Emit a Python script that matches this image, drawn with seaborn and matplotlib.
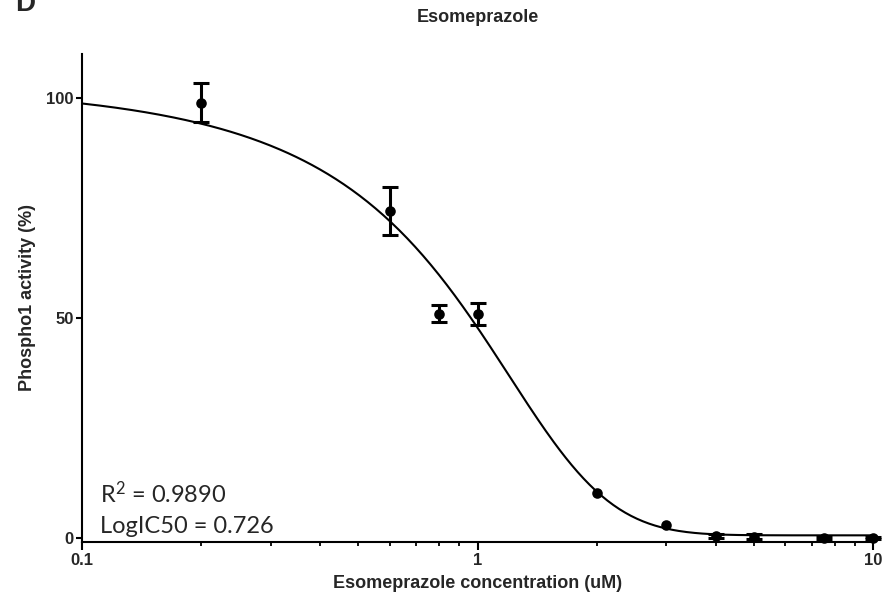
import numpy as np
import pandas as pd
import matplotlib
matplotlib.use("Agg")
import matplotlib.pyplot as plt
from matplotlib.ticker import FixedLocator, NullFormatter, FixedFormatter
import seaborn as sns

# Measured Phospho1 activity at each esomeprazole dose
concentration = [0.2, 0.6, 0.8, 1.0, 2.0, 3.0, 4.0, 5.0, 7.5, 10.0]
activity = [98.9, 74.3, 51.0, 50.8, 10.2, 3.0, 0.5, 0.3, 0.1, 0.0]
activity_sem = [4.4, 5.5, 2.0, 2.5, 0.0, 0.0, 0.4, 0.5, 0.4, 0.3]

# Dose-response fit (response vs. concentration, four parameters)
fit_top = 128.0
fit_bottom = 0.6
fit_log_ic50 = 0.726
fit_hill = 0.84
fit_r2 = 0.9890

x_ticks = [0.1, 1, 10]
x_tick_labels = ["0.1", "1", "10"]
y_ticks = [0, 50, 100]
y_tick_labels = ["0", "50", "100"]

sns.set_style("ticks")
plt.rcParams["font.family"] = ["Liberation Sans", "DejaVu Sans"]
plt.rcParams["mathtext.fontset"] = "custom"
plt.rcParams["mathtext.rm"] = "Lato"
plt.rcParams["mathtext.it"] = "Lato"

fig = plt.figure(figsize=(8.82, 5.98), dpi=100)
W, H = 882, 598
left, right, bottom, top = 82, 873, 541.5, 54
ax = fig.add_axes([left / W, 1 - bottom / H, (right - left) / W, (bottom - top) / H])

# fitted curve
xs = np.logspace(-1, 1, 400)
curve = pd.DataFrame({
    "conc": xs,
    "fit": fit_bottom + (fit_top - fit_bottom) / (1 + 10 ** ((xs - fit_log_ic50) * fit_hill)),
})
sns.lineplot(data=curve, x="conc", y="fit", ax=ax, color="black", lw=1.5,
             clip_on=False, zorder=2)

# data points; error bars only where an error was measured
points = pd.DataFrame({"conc": concentration, "act": activity, "sem": activity_sem})
with_err = points[points["sem"] > 0]
ax.errorbar(with_err["conc"], with_err["act"], yerr=with_err["sem"], fmt="none",
            ecolor="black", elinewidth=2.2, capsize=6.0, capthick=2.2,
            clip_on=False, zorder=3)
sns.scatterplot(data=points, x="conc", y="act", ax=ax, color="black", s=58,
                edgecolor="black", linewidth=0, clip_on=False, zorder=4)

ax.set_xscale("log")
ax.set_xlim(0.1, 10)
ax.set_ylim(-0.8, 110)

ax.xaxis.set_major_locator(FixedLocator(x_ticks))
ax.xaxis.set_major_formatter(FixedFormatter(x_tick_labels))
minor = [m * d for d in (0.1, 1) for m in range(2, 10)]
ax.xaxis.set_minor_locator(FixedLocator(minor))
ax.xaxis.set_minor_formatter(NullFormatter())
ax.yaxis.set_major_locator(FixedLocator(y_ticks))
ax.yaxis.set_major_formatter(FixedFormatter(y_tick_labels))

sns.despine(ax=ax)
for s in ("left", "bottom"):
    ax.spines[s].set_linewidth(1.5)
    ax.spines[s].set_color("black")

ax.tick_params(axis="x", which="major", direction="out", length=5.5, width=1.5,
               labelsize=12, pad=3, color="black")
ax.tick_params(axis="x", which="minor", direction="out", length=3, width=1.3,
               color="black")
ax.tick_params(axis="y", which="major", direction="out", length=4.5, width=1.5,
               labelsize=12, pad=1.5, color="black")
for lab in ax.get_xticklabels() + ax.get_yticklabels():
    lab.set_fontweight("bold")

ax.set_xlabel("Esomeprazole concentration (uM)", fontsize=13, fontweight="bold")
ax.set_ylabel("Phospho1 activity (%)", fontsize=13, fontweight="bold")
ax.xaxis.set_label_coords(0.5, -0.068)
ax.yaxis.set_label_coords((36 - left) / (right - left), 0.5)

fig.text((left + right) / 2 / W, 1 - 18 / H, "Esomeprazole", ha="center",
         va="center", fontsize=13, fontweight="bold")
fig.text(15 / W, 1 - 11 / H, "D", ha="left", va="baseline", fontsize=20,
         fontweight="bold")

# fit statistics
fig.text(100 / W, 1 - 503 / H, "R$^{2}$" + f" = {fit_r2:.4f}", ha="left",
         va="baseline", fontsize=17, family=["Lato", "DejaVu Sans"])
fig.text(100 / W, 1 - 533 / H, f"LogIC50 = {fit_log_ic50}", ha="left",
         va="baseline", fontsize=17, family=["Lato", "DejaVu Sans"])

ax.set_facecolor("white")
fig.patch.set_facecolor("white")
fig.savefig("out.png", dpi=100)
